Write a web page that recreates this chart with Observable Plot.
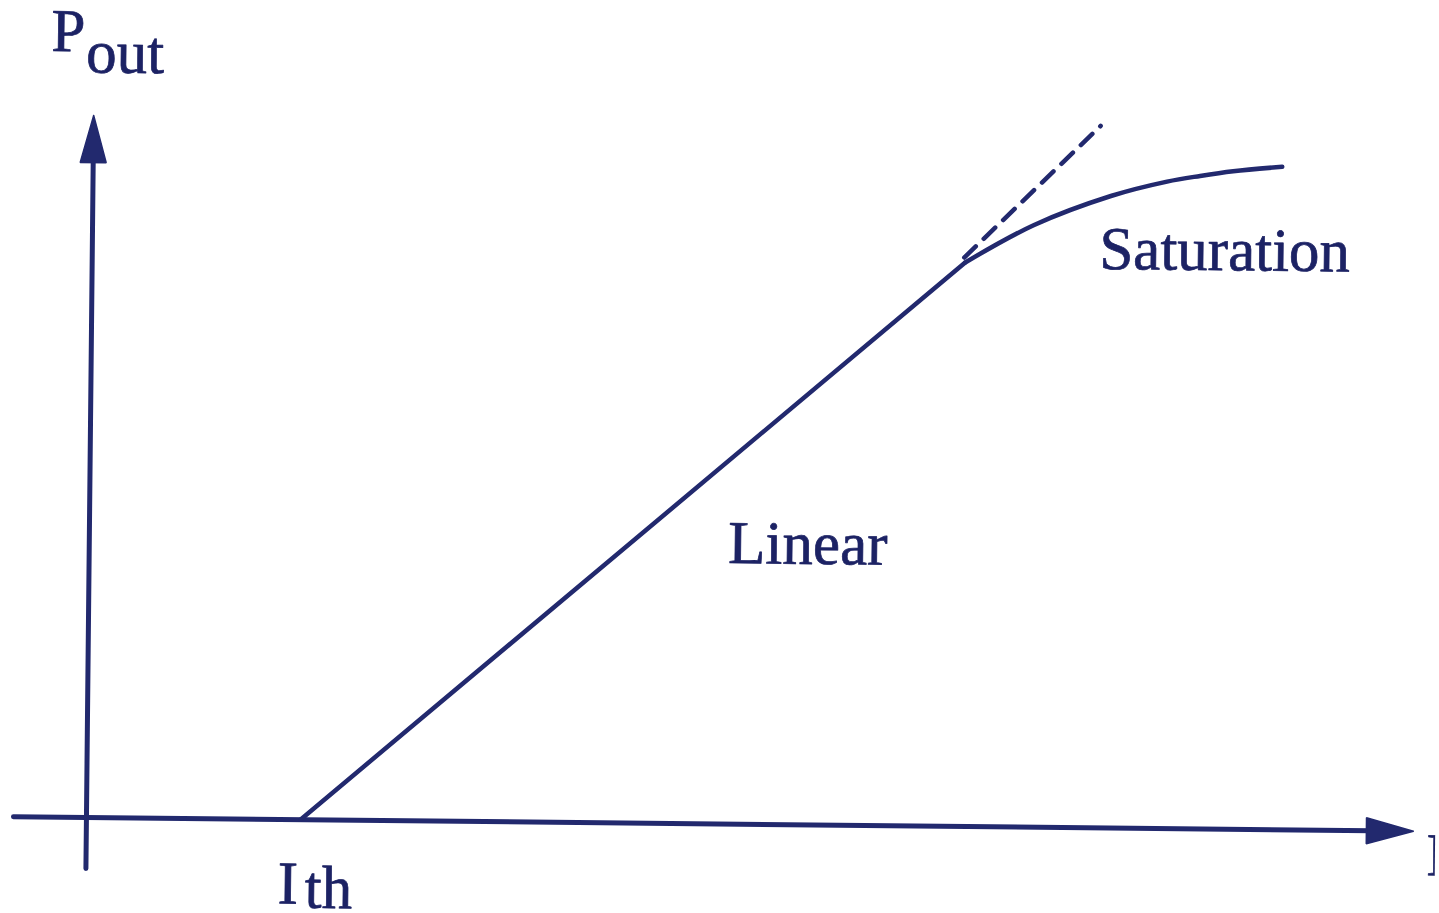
<!DOCTYPE html>
<html>
<head>
<meta charset="utf-8">
<script src="https://cdn.jsdelivr.net/npm/d3@7"></script>
<script src="https://cdn.jsdelivr.net/npm/@observablehq/plot@0.6"></script>
<style>
  html, body { margin: 0; padding: 0; background: #ffffff; overflow: hidden; }
  #chart svg { display: block; transform-origin: 50% 50%; transform: rotate(0.59deg); }
</style>
</head>
<body>
<div id="chart"></div>
<script>
// Laser output power versus drive current: below threshold (Ith) nothing,
// then a linear rise, then saturation. Units are arbitrary.

// Axes extents (current I, output power P)
const iAxisRange = [-0.73, 13.27];
const pAxisRange = [-0.51, 7.02];

// Linear region: from threshold to the onset of saturation
const linearI = [2.14, 8.73];
const linearP = [0, 5.64];

// Saturation region (bends over from the end of the linear region)
const saturationI = [8.73, 9.41, 10.18, 10.74, 11.07, 11.40, 11.89];
const saturationP = [5.64, 6.02, 6.32, 6.47, 6.53, 6.58, 6.63];

// Dashed extrapolation of the linear trend
const extrapolationI = [8.72, 10.07];
const extrapolationP = [5.69, 7.02];

// Text labels and their anchor points (baseline, left edge)
const labelText = ["P", "out", "Linear", "Saturation", "I", "th", "I"];
const labelI = [-0.43, -0.08, 6.39, 10.07, 1.92, 2.19, 13.40];
const labelP = [7.66, 7.45, 2.61, 5.59, -0.84, -0.88, -0.44];

const ink = "#22296e";
const textInk = "#1c2264";

const zip = (xs, ys) => xs.map((x, i) => ({I: x, P: ys[i]}));

const linear = zip(linearI, linearP);
const saturation = zip(saturationI, saturationP);
const extrapolation = zip(extrapolationI, extrapolationP);
const labels = labelText.map((t, i) => ({text: t, I: labelI[i], P: labelP[i]}));

// Axis lines with filled arrowheads at the positive ends
const headLength = 0.47, headHalf = 0.13;
const pAxisLine = [{I: 0, P: pAxisRange[0]}, {I: 0, P: pAxisRange[1] - headLength + 0.05}];
const iAxisLine = [{I: iAxisRange[0], P: 0}, {I: iAxisRange[1] - headLength + 0.05, P: 0}];
const pHead = [
  {I: 0, P: pAxisRange[1]},
  {I: -headHalf, P: pAxisRange[1] - headLength},
  {I: headHalf, P: pAxisRange[1] - headLength},
  {I: 0, P: pAxisRange[1]}
];
const iHead = [
  {I: iAxisRange[1], P: 0},
  {I: iAxisRange[1] - headLength, P: headHalf},
  {I: iAxisRange[1] - headLength, P: -headHalf},
  {I: iAxisRange[1], P: 0}
];

const chart = Plot.plot({
  width: 1439,
  height: 913,
  margin: 0,
  x: {domain: [-0.897, 13.493], axis: null},
  y: {domain: [-0.895, 8.235], axis: null},
  style: {background: "#ffffff"},
  marks: [
    Plot.line(iAxisLine, {x: "I", y: "P", stroke: ink, strokeWidth: 5}),
    Plot.line(pAxisLine, {x: "I", y: "P", stroke: ink, strokeWidth: 5}),
    Plot.line(iHead, {x: "I", y: "P", stroke: ink, fill: ink, strokeWidth: 1.5, strokeLinejoin: "miter"}),
    Plot.line(pHead, {x: "I", y: "P", stroke: ink, fill: ink, strokeWidth: 1.5, strokeLinejoin: "miter"}),
    Plot.line(extrapolation, {x: "I", y: "P", stroke: ink, strokeWidth: 4.5, strokeDasharray: "16,11"}),
    Plot.line(linear, {x: "I", y: "P", stroke: ink, strokeWidth: 4.5}),
    Plot.line(saturation, {x: "I", y: "P", stroke: ink, strokeWidth: 4.5, curve: "catmull-rom"}),
    Plot.text(labels, {
      x: "I", y: "P", text: "text",
      textAnchor: "start", lineAnchor: "bottom",
      fontFamily: "'Liberation Serif', 'Times New Roman', serif",
      fontSize: 61, fill: textInk, stroke: textInk, strokeWidth: 0.7
    })
  ]
});

document.getElementById("chart").appendChild(chart);
</script>
</body>
</html>
